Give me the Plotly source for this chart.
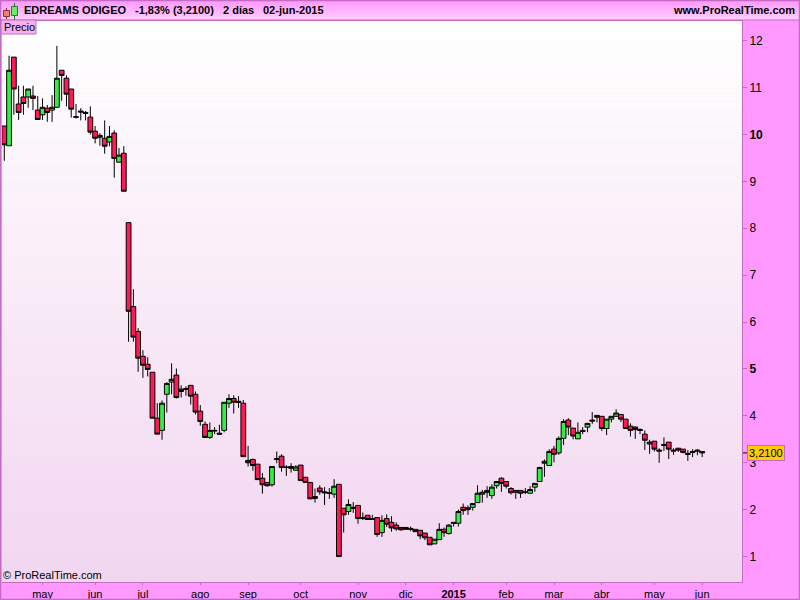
import plotly.graph_objects as go

# Two-day bars, EDREAMS ODIGEO
bar_number = list(range(147))
open_ = [10.18,9.76,11.65,10.65,10.80,10.80,10.82,10.52,10.42,10.56,10.52,10.58,11.37,11.20,10.97,10.38,10.50,10.47,10.37,10.07,
 9.94,9.92,9.84,10.03,9.41,9.60,8.12,6.33,5.80,5.27,5.10,4.93,3.95,3.69,4.46,4.72,4.87,4.57,4.58,4.65,
 4.46,4.10,3.82,3.54,3.69,3.63,3.69,4.27,4.37,4.31,4.27,3.05,3.07,2.97,2.67,2.58,2.53,3.09,3.14,2.91,
 2.92,2.84,2.95,2.69,2.58,2.28,2.46,2.38,2.36,2.33,2.54,2.03,1.96,2.05,2.09,1.83,1.88,1.81,1.83,1.51,
 1.81,1.73,1.67,1.62,1.62,1.60,1.58,1.56,1.50,1.41,1.27,1.36,1.58,1.49,1.73,1.71,2.05,2.00,2.05,2.15,
 2.33,2.41,2.30,2.51,2.67,2.60,2.45,2.37,2.41,2.38,2.35,2.48,2.60,2.99,2.94,3.29,3.21,3.52,3.91,3.74,
 3.51,3.69,3.76,3.91,4.01,3.99,3.73,3.93,3.99,4.03,3.93,3.78,3.76,3.71,3.61,3.40,3.46,3.27,3.39,3.44,
 3.27,3.31,3.29,3.20,3.24,3.27,3.24]
high = [10.18,11.68,11.65,11.04,11.04,10.97,11.04,10.82,10.77,10.63,10.84,11.89,11.37,11.26,10.97,10.65,10.56,10.50,10.60,10.18,
 10.03,10.30,10.18,10.09,9.71,9.75,8.12,6.70,5.87,5.40,5.25,4.93,4.27,4.33,4.72,5.12,5.01,4.65,4.63,4.65,
 4.52,4.23,3.88,3.86,3.76,3.81,4.29,4.46,4.44,4.42,4.34,3.36,3.09,2.97,2.78,2.58,2.92,3.24,3.18,2.95,
 2.99,2.95,2.95,2.69,2.58,2.45,2.52,2.48,2.46,2.65,2.54,2.03,2.22,2.16,2.09,1.94,1.88,1.89,1.83,1.88,
 1.90,1.86,1.73,1.62,1.62,1.64,1.58,1.56,1.50,1.41,1.37,1.71,1.62,1.69,1.73,2.00,2.13,2.09,2.13,2.52,
 2.42,2.50,2.54,2.60,2.69,2.60,2.48,2.41,2.41,2.46,2.50,2.56,2.90,3.07,3.29,3.36,3.56,3.93,3.95,3.74,
 3.86,3.76,3.84,4.08,4.01,3.99,3.93,3.99,4.14,4.03,3.93,3.84,3.78,3.73,3.69,3.49,3.46,3.31,3.54,3.44,
 3.31,3.31,3.29,3.27,3.29,3.29,3.24]
low = [9.44,9.76,10.42,10.31,10.42,10.57,10.52,10.32,10.31,10.27,10.27,10.58,10.72,10.60,10.36,10.34,10.30,10.30,10.00,9.81,
 9.76,9.59,9.75,9.08,9.41,8.79,5.58,5.58,4.94,4.81,4.84,3.95,3.61,3.49,4.07,4.46,4.37,4.39,4.43,4.24,
 4.03,3.79,3.54,3.51,3.61,3.61,3.65,4.17,4.05,4.17,3.13,2.92,2.83,2.64,2.34,2.49,2.49,2.99,2.81,2.72,
 2.79,2.84,2.62,2.58,2.23,2.15,2.32,2.10,2.23,2.25,1.00,1.51,1.89,1.93,1.70,1.78,1.79,1.79,1.42,1.42,
 1.63,1.53,1.55,1.55,1.58,1.54,1.53,1.37,1.35,1.25,1.27,1.36,1.42,1.47,1.64,1.64,1.89,1.89,1.98,2.15,
 2.15,2.25,2.23,2.45,2.38,2.45,2.32,2.23,2.25,2.33,2.35,2.38,2.60,2.70,2.94,3.01,3.17,3.38,3.59,3.50,
 3.51,3.61,3.65,3.83,3.86,3.68,3.59,3.86,3.99,3.87,3.73,3.56,3.51,3.61,3.27,3.19,3.24,3.00,3.25,3.08,
 3.17,3.23,3.20,3.04,3.12,3.16,3.12]
close = [9.78,11.37,10.97,10.47,10.66,10.97,10.77,10.32,10.58,10.47,10.58,11.20,11.26,10.86,10.54,10.37,10.48,10.45,10.05,9.92,
 9.98,9.75,9.96,9.49,9.56,8.79,6.23,5.68,5.23,5.08,4.99,3.95,3.61,4.27,4.69,4.78,4.39,4.52,4.57,4.42,
 4.08,3.88,3.54,3.69,3.68,3.61,4.29,4.37,4.29,4.29,3.13,3.00,2.94,2.64,2.53,2.51,2.92,3.07,2.90,2.90,
 2.88,2.91,2.62,2.58,2.23,2.24,2.38,2.36,2.35,2.50,1.00,1.89,2.11,2.03,1.81,1.81,1.79,1.79,1.47,1.77,
 1.69,1.61,1.59,1.57,1.58,1.58,1.53,1.44,1.40,1.25,1.37,1.58,1.51,1.67,1.71,1.96,1.98,2.04,2.13,2.35,
 2.37,2.37,2.48,2.60,2.56,2.50,2.36,2.41,2.35,2.37,2.43,2.56,2.90,3.03,3.24,3.18,3.52,3.88,3.76,3.57,
 3.65,3.67,3.84,3.89,3.97,3.73,3.93,3.99,4.06,3.93,3.73,3.69,3.71,3.69,3.48,3.44,3.29,3.25,3.37,3.29,
 3.25,3.27,3.22,3.18,3.22,3.25,3.21]

x_tick_bars = [8, 19, 29, 41, 51, 62, 74, 84, 94, 105, 115, 125, 136, 146]
x_tick_labels = ["may", "jun", "jul", "ago", "sep", "oct", "nov", "dic", "<b>2015</b>", "feb", "mar", "abr", "may", "jun"]
y_tick_values = [1, 2, 3, 4, 5, 6, 7, 8, 9, 10, 11, 12]
y_tick_labels = ["1", "2", "3", "4", "<b>5</b>", "6", "7", "8", "9", "<b>10</b>", "11", "12"]
last_price = 3.21
last_label = "3,2100"

PINK = "#ff99ff"
EDGE = "#c46cc4"
FONT = "Liberation Sans"


def mix(a, b, t):
    return "rgb(%d,%d,%d)" % tuple(round(a[k] + (b[k] - a[k]) * t) for k in range(3))


W, H = 800, 600
L, R, T, B = 2, 58, 21, 18
to_x = lambda v: (v - L) / (W - L - R)
to_y = lambda v: (H - B - v) / (H - T - B)
shapes = []
# plot gradient
N = 70
for k in range(N):
    shapes.append(dict(type="rect", xref="paper", yref="paper", layer="below", line_width=0,
                       x0=0, x1=1, y0=k / N - 0.001 if k else 0, y1=(k + 1) / N,
                       fillcolor=mix((242, 214, 240), (255, 255, 255), (k + 0.5) / N)))
# header gradient
for k in range(20):
    shapes.append(dict(type="rect", xref="paper", yref="paper", layer="below", line_width=0,
                       x0=to_x(0), x1=to_x(800), y0=to_y(k + 1), y1=to_y(k),
                       fillcolor=mix((255, 150, 255), (255, 206, 255), k / 19)))

# header rule, precio tab, price label
shapes += [
    dict(type="line", xref="paper", yref="paper", x0=to_x(0), x1=to_x(800), y0=to_y(20), y1=to_y(20),
         line=dict(color=EDGE, width=1)),
    dict(type="rect", xref="paper", yref="paper", x0=to_x(1), x1=to_x(36), y0=to_y(34), y1=to_y(20),
         fillcolor="#f5b0f0", line=dict(color=EDGE, width=1)),
    # header icon
    dict(type="line", xref="paper", yref="paper", x0=to_x(6.5), x1=to_x(6.5), y0=to_y(8), y1=to_y(19),
         line=dict(color="#aa2222", width=1)),
    dict(type="rect", xref="paper", yref="paper", x0=to_x(3.5), x1=to_x(9.5), y0=to_y(16.5), y1=to_y(10.5),
         fillcolor="#f08070", line=dict(color="#883333", width=1)),
    dict(type="line", xref="paper", yref="paper", x0=to_x(14.5), x1=to_x(14.5), y0=to_y(3), y1=to_y(20),
         line=dict(color="#118822", width=1)),
    dict(type="rect", xref="paper", yref="paper", x0=to_x(11.5), x1=to_x(17.5), y0=to_y(15.5), y1=to_y(6.5),
         fillcolor="#66ee66", line=dict(color="#337733", width=1)),
    # outer frame
    dict(type="rect", xref="paper", yref="paper", x0=to_x(0.5), x1=to_x(799.5), y0=to_y(599.5), y1=to_y(0.5),
         line=dict(color=EDGE, width=1.5)),
]

fig = go.Figure(go.Candlestick(
    x=bar_number, open=open_, high=high, low=low, close=close,
    whiskerwidth=0,
    increasing=dict(fillcolor="#33ee44", line=dict(color="#000000", width=1)),
    decreasing=dict(fillcolor="#ff1a55", line=dict(color="#000000", width=1)),
    hoverinfo="skip", showlegend=False,
))

ann = lambda x, y, text, size=11, **kw: dict(xref="paper", yref="paper", x=to_x(x), y=to_y(y), text=text,
                                             showarrow=False, xanchor=kw.pop("xanchor", "left"), yanchor="middle",
                                             font=dict(family=FONT, size=size, color="#000000"), **kw)

annotations = [
    ann(22, 10, "<b>EDREAMS ODIGEO</b>", 11),
    ann(133, 10, "<b>-1,83% (3,2100)</b>", 11),
    ann(221, 10, "<b>2 días</b>", 11),
    ann(261, 10, "<b>02-jun-2015</b>", 11),
    ann(797, 10, "<b>www.ProRealTime.com</b>", 11, xanchor="right"),
    ann(1.5, 27, "Precio", 11),
    ann(1, 575, "© ProRealTime.com", 11),
    dict(xref="paper", yref="y", x=to_x(747), y=last_price, text=last_label, showarrow=False,
         xanchor="left", yanchor="middle", bgcolor="#ffcc00", bordercolor=EDGE, borderwidth=1, borderpad=1,
         font=dict(family=FONT, size=11, color="#000000")),
]
shapes.append(dict(type="line", xref="paper", yref="y", x0=to_x(743), x1=to_x(747), y0=last_price, y1=last_price,
                   line=dict(color="#000000", width=1)))

fig.update_layout(
    width=W, height=H, margin=dict(l=L, r=R, t=T, b=B, autoexpand=False),
    paper_bgcolor=PINK, plot_bgcolor="rgba(0,0,0,0)", boxgap=0, boxgroupgap=0,
    shapes=shapes, annotations=annotations, hovermode=False, showlegend=False,
    font=dict(family=FONT, size=11, color="#000000"),
    xaxis=dict(range=[-0.48, 154.33], rangeslider=dict(visible=False), showgrid=False, zeroline=False,
               tickmode="array", tickvals=x_tick_bars, ticktext=x_tick_labels, ticks="outside", ticklen=2,
               tickcolor=EDGE, tickfont=dict(family=FONT, size=11), showline=True, linecolor=EDGE, linewidth=1,
               mirror=True, tickangle=0),
    yaxis=dict(range=[0.457, 12.42], side="right", showgrid=False, zeroline=False,
               tickmode="array", tickvals=y_tick_values, ticktext=y_tick_labels, ticks="outside", ticklen=4,
               tickcolor=EDGE, tickfont=dict(family=FONT, size=12), showline=True, linecolor=EDGE, linewidth=1),
)

crisp = ("document.body.style.margin='0';document.documentElement.style.overflow='hidden';")
fig.write_html("out.html", post_script=crisp, config={"displayModeBar": False})
